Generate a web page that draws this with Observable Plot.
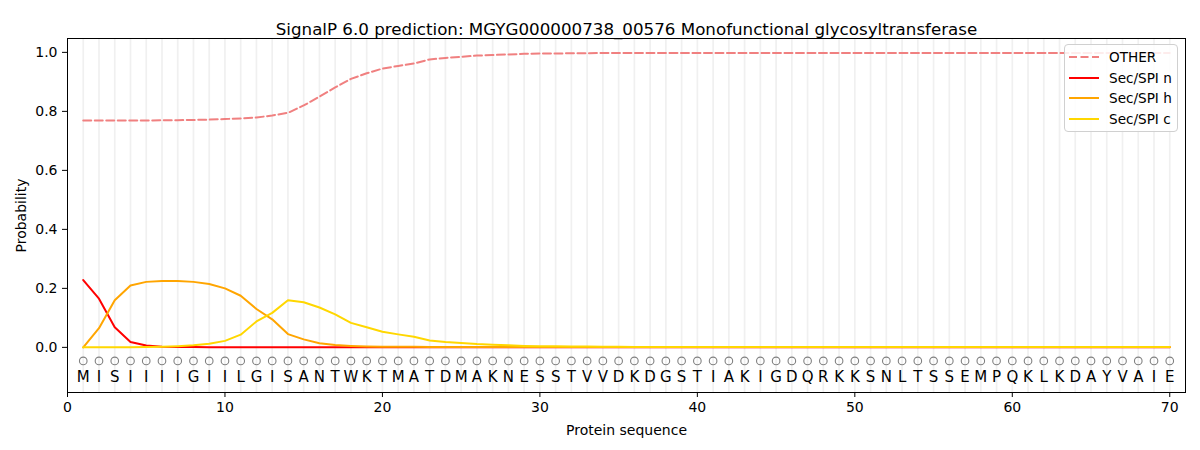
<!DOCTYPE html>
<html><head><meta charset="utf-8">
<script src="https://cdn.jsdelivr.net/npm/d3@7"></script>
<script src="https://cdn.jsdelivr.net/npm/@observablehq/plot@0.6"></script>
<style>
body{margin:0;background:#fff;font-family:"DejaVu Sans",sans-serif}
#wrap{position:relative;width:1200px;height:450px}
#legend{position:absolute;left:1064px;top:44px;width:112px;height:86px;border:1px solid #d0d0d0;border-radius:4px;background:rgba(255,255,255,0.85);font-family:"DejaVu Sans",sans-serif;font-size:13.6px;color:#000}
.row{position:absolute;left:0;height:20px;line-height:20px}
.row svg{position:absolute;left:4px;top:4px}
.row span{position:absolute;left:44px;white-space:nowrap}
</style></head><body>
<div id="wrap"><div id="legend"></div></div>
<script>
const title = "SignalP 6.0 prediction: MGYG000000738_00576 Monofunctional glycosyltransferase";
const sequence = "MISIIIIGIILGISANTWKTMATDMAKNESSTVVDKDGSTIAKIGDQRKKSNLTSSEMPQKLKDAYVAIE".split("");
const xTicks = [0,10,20,30,40,50,60,70];
const yTicks = [0,0.2,0.4,0.6,0.8,1.0];
const seriesNames = ["OTHER","Sec/SPI n","Sec/SPI h","Sec/SPI c"];
const seriesColors = ["#f08080","#ff0000","#ffa500","#ffd700"];

const other = [0.769,0.769,0.769,0.769,0.769,0.770,0.770,0.771,0.772,0.774,
  0.776,0.779,0.786,0.795,0.820,0.850,0.881,0.910,0.929,0.945,
  0.954,0.962,0.976,0.981,0.985,0.989,0.991,0.993,0.995,0.996,
  0.996,0.997,0.997,0.998,0.998,0.998,0.998,0.998,0.998,0.998,
  0.998,0.998,0.998,0.998,0.998,0.998,0.998,0.998,0.998,0.998,
  0.998,0.998,0.998,0.998,0.998,0.998,0.998,0.998,0.998,0.998,
  0.998,0.998,0.998,0.998,0.998,0.998,0.998,0.998,0.998,0.998];
const secN = [0.228,0.165,0.068,0.018,0.006,0.002,0.001,0.001,0,0,
  0,0,0,0,0,0,0,0,0,0, 0,0,0,0,0,0,0,0,0,0, 0,0,0,0,0,0,0,0,0,0,
  0,0,0,0,0,0,0,0,0,0, 0,0,0,0,0,0,0,0,0,0, 0,0,0,0,0,0,0,0,0,0];
const secH = [0.000,0.065,0.160,0.210,0.222,0.225,0.225,0.222,0.215,0.200,
  0.175,0.130,0.095,0.045,0.027,0.014,0.008,0.005,0.003,0.002,
  0.002,0.002,0.001,0.001,0.001,0.001,0.001,0.001,0.001,0.001,
  0.001,0.001,0.001,0.001,0.001,0.001,0.001,0.001,0.001,0.001,
  0.001,0.001,0.001,0.001,0.001,0.001,0.001,0.001,0.001,0.001,
  0.001,0.001,0.001,0.001,0.001,0.001,0.001,0.001,0.001,0.001,
  0.001,0.001,0.001,0.001,0.001,0.001,0.001,0.001,0.001,0.001];
const secC = [0,0,0,0,0.001,0.002,0.004,0.007,0.012,0.022,
  0.043,0.088,0.117,0.160,0.153,0.135,0.112,0.083,0.068,0.053,
  0.044,0.036,0.023,0.018,0.015,0.011,0.009,0.007,0.005,0.004,
  0.004,0.003,0.003,0.002,0.002,0.001,0.001,0.001,0.001,0.001,
  0.001,0.001,0.001,0.001,0.001,0.001,0.001,0.001,0.001,0.001,
  0.001,0.001,0.001,0.001,0.001,0.001,0.001,0.001,0.001,0.001,
  0.001,0.001,0.001,0.001,0.001,0.001,0.001,0.001,0.001,0.001];
const circleRowY = -0.046;
const letterRowY = -0.1;

const positions = sequence.map((_, i) => i + 1);
const residues = sequence.map((aa, i) => ({pos: i + 1, aa}));
const toRows = arr => arr.map((v, i) => ({pos: i + 1, p: v}));

const chart = Plot.plot({
  width: 1200, height: 450,
  marginLeft: 67, marginRight: 15, marginTop: 38, marginBottom: 58,
  x: {domain: [0, 71]},
  y: {domain: [-0.153, 1.047]},
  style: {fontFamily: "DejaVu Sans", fontSize: "14px", color: "#000", background: "#fff"},
  marks: [
    Plot.ruleX(positions, {x: d => d, stroke: "#f0f0f0", strokeWidth: 1.7}),
    Plot.line(toRows(other), {x: "pos", y: "p", stroke: seriesColors[0], strokeWidth: 2, strokeDasharray: "8,3.5"}),
    Plot.line(toRows(secN), {x: "pos", y: "p", stroke: seriesColors[1], strokeWidth: 2}),
    Plot.line(toRows(secH), {x: "pos", y: "p", stroke: seriesColors[2], strokeWidth: 2}),
    Plot.line(toRows(secC), {x: "pos", y: "p", stroke: seriesColors[3], strokeWidth: 2}),
    Plot.dot(residues, {x: "pos", y: () => circleRowY, r: 3.8, stroke: "#808080", strokeWidth: 1.1, fill: "none"}),
    Plot.text(residues, {x: "pos", y: () => letterRowY, text: "aa", fontSize: 15, fill: "#000"}),
    Plot.frame({stroke: "#000", strokeWidth: 1}),
    Plot.axisX({ticks: xTicks, tickSize: 5, tickPadding: 5, label: "Protein sequence", labelAnchor: "center", labelArrow: "none", labelOffset: 42}),
    Plot.axisY({ticks: yTicks, tickFormat: ".1f", tickSize: 5, tickPadding: 5, label: "Probability", labelAnchor: "center", labelArrow: "none", labelOffset: 51}),
    Plot.text([title], {frameAnchor: "top", dy: -15, fontSize: 16.7, fill: "#000"})
  ]
});
document.getElementById("wrap").prepend(chart);

const legend = document.getElementById("legend");
seriesNames.forEach((name, i) => {
  const row = document.createElement("div");
  row.className = "row";
  row.style.top = (2 + i * 20.5) + "px";
  const dash = i === 0 ? 'stroke-dasharray="8,3.5"' : "";
  row.innerHTML = `<svg width="32" height="12"><line x1="0" y1="6" x2="30" y2="6" stroke="${seriesColors[i]}" stroke-width="2" ${dash}/></svg><span>${name}</span>`;
  legend.appendChild(row);
});
</script>
</body></html>
